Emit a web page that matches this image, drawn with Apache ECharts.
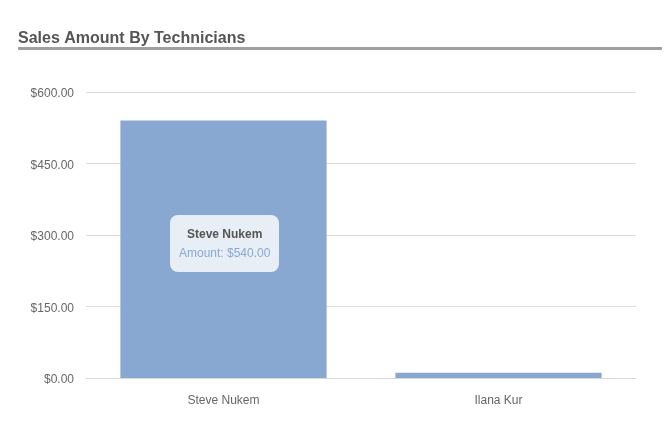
<!DOCTYPE html>
<html>
<head>
<meta charset="utf-8">
<script src="https://cdn.jsdelivr.net/npm/echarts@6/dist/echarts.min.js"></script>
<style>
html,body{margin:0;padding:0;background:#fff;}
#c{width:671px;height:422px;}
</style>
</head>
<body>
<div id="c"></div>
<script>
var categories = ['Steve Nukem', 'Ilana Kur'];
var amounts = [540, 11];
var yTicks = { min: 0, max: 600, interval: 150 };

var chart = echarts.init(document.getElementById('c'), null, { renderer: 'canvas' });
function money(v) { return '$' + v.toFixed(2).replace(/\B(?=(\d{3})+(?!\d))/g, ','); }
chart.setOption({
  animation: false,
  textStyle: { fontFamily: 'Liberation Sans, Arial, sans-serif' },
  title: {
    text: 'Sales Amount By Technicians',
    left: 18, top: 31, padding: 0,
    textStyle: { fontSize: 16, fontWeight: 'bold', color: '#555', fontFamily: 'Liberation Sans, Arial, sans-serif' }
  },
  graphic: [{
    type: 'rect', left: 18, top: 47,
    shape: { width: 644, height: 3 },
    style: { fill: '#a0a0a0' }, silent: true
  }],
  grid: { left: 86, right: 35, top: 92, bottom: 44, containLabel: false },
  tooltip: {
    trigger: 'item',
    alwaysShowContent: true,
    transitionDuration: 0,
    backgroundColor: 'rgba(255,255,255,0.8)',
    borderWidth: 0,
    borderRadius: 8,
    padding: [10, 9, 9, 9],
    extraCssText: 'box-shadow:none;',
    position: [170, 215],
    formatter: function (p) {
      return '<div style="font-family:Liberation Sans,Arial,sans-serif;text-align:center;line-height:19px;">' +
        '<div style="font-weight:bold;color:#555;font-size:12px;">' + p.name + '</div>' +
        '<div style="color:#8aa8d0;font-size:12px;">Amount: ' + money(p.value) + '</div></div>';
    }
  },
  xAxis: {
    type: 'category',
    data: categories,
    axisLine: { lineStyle: { color: '#d8d8d8' } },
    axisTick: { show: false },
    axisLabel: { color: '#666', fontSize: 12, margin: 17 }
  },
  yAxis: {
    type: 'value',
    min: yTicks.min, max: yTicks.max, interval: yTicks.interval,
    axisLine: { show: false },
    axisTick: { show: false },
    splitLine: { lineStyle: { color: '#dcdcdc' } },
    axisLabel: {
      color: '#666', fontSize: 12, margin: 12,
      formatter: function (v) { return '{a|' + money(v) + '}'; },
      rich: { a: { color: '#666', fontSize: 12, padding: [4, 0, 0, 0] } }
    }
  },
  series: [{
    type: 'bar',
    data: amounts,
    barWidth: '75%',
    itemStyle: { color: '#89a8d1' },
    emphasis: { disabled: true }
  }]
});
chart.dispatchAction({ type: 'showTip', seriesIndex: 0, dataIndex: 0 });
</script>
</body>
</html>
